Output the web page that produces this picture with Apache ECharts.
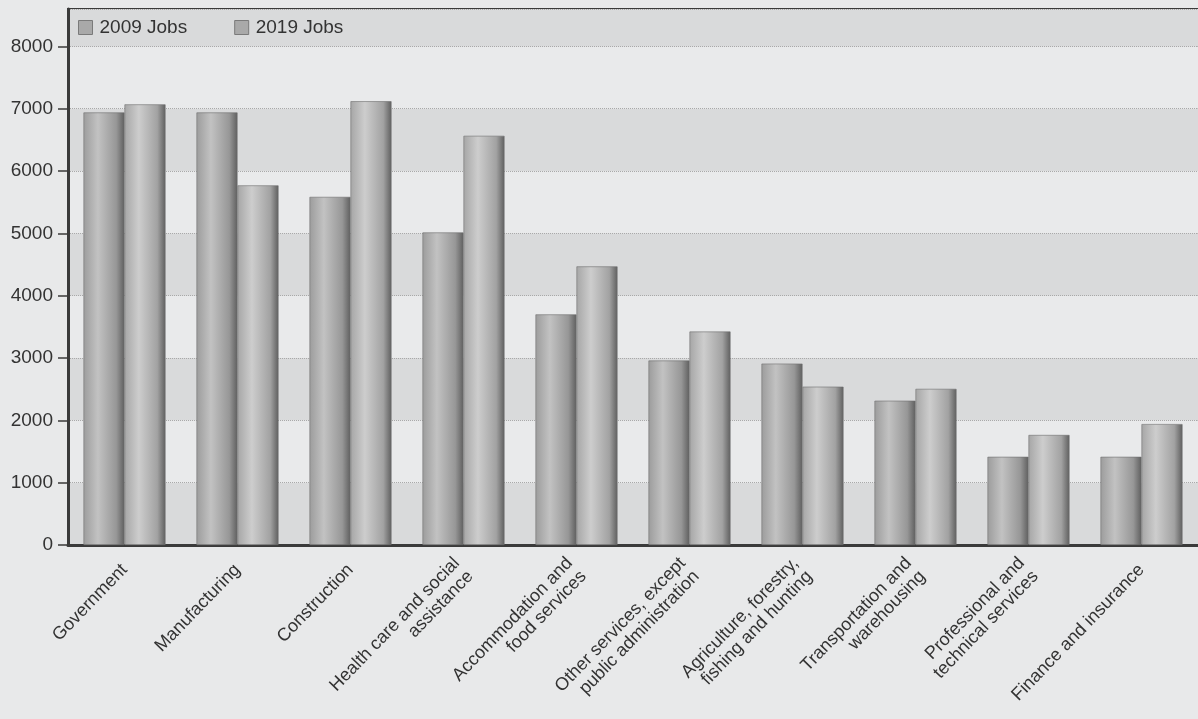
<!DOCTYPE html>
<html>
<head>
<meta charset="utf-8">
<script src="https://cdn.jsdelivr.net/npm/echarts@6/dist/echarts.min.js"></script>
<style>
  html, body { margin: 0; padding: 0; background: #e8e9ea; }
  #chart { width: 1198px; height: 719px; }
</style>
</head>
<body>
<div id="chart"></div>
<script>
// Industry categories (two-line labels where the name wraps)
const categories = [
  'Government',
  'Manufacturing',
  'Construction',
  'Health care and social\nassistance',
  'Accommodation and\nfood services',
  'Other services, except\npublic administration',
  'Agriculture, forestry,\nfishing and hunting',
  'Transportation and\nwarehousing',
  'Professional and\ntechnical services',
  'Finance and insurance'
];

// Jobs by industry
const jobs2009 = [6940, 6940, 5585, 5015, 3700, 2960, 2910, 2315, 1415, 1415];
const jobs2019 = [7070, 5770, 7120, 6565, 4470, 3425, 2540, 2505, 1765, 1940];

const seriesNames = ['2009 Jobs', '2019 Jobs'];
const yTicks = [0, 1000, 2000, 3000, 4000, 5000, 6000, 7000, 8000];

// Horizontal shading that gives each bar a rounded, cylinder-like look
function cylinder(light) {
  return new echarts.graphic.LinearGradient(0, 0, 1, 0, [
    { offset: 0, color: light ? '#a6a6a6' : '#9c9c9c' },
    { offset: 0.35, color: light ? '#cdcdcd' : '#c2c2c2' },
    { offset: 0.8, color: light ? '#a2a2a2' : '#979797' },
    { offset: 1, color: '#5f5f5f' }
  ]);
}

const chart = echarts.init(document.getElementById('chart'));
chart.setOption({
  backgroundColor: '#e8e9ea',
  animation: false,
  textStyle: { fontFamily: 'Liberation Sans, Arial, sans-serif' },
  grid: {
    left: 68, top: 9, right: -7, bottom: 174,
    show: true, borderColor: '#3a3a3a', borderWidth: 2,
    containLabel: false
  },
  legend: {
    left: 78, top: 18, padding: 0,
    itemWidth: 14, itemHeight: 14, itemGap: 47,
    icon: 'rect',
    textStyle: { fontSize: 19, color: '#333', padding: [0, 0, 0, 2] },
    data: seriesNames.map(n => ({
      name: n,
      itemStyle: { color: '#a9a9a9', borderColor: '#7a7a7a', borderWidth: 1 }
    }))
  },
  xAxis: {
    type: 'category',
    data: categories,
    axisLine: { lineStyle: { color: '#3a3a3a', width: 3 } },
    axisTick: { alignWithLabel: true, length: 8, lineStyle: { color: '#3a3a3a', width: 1.5 } },
    axisLabel: {
      rotate: 46, interval: 0, margin: 22,
      fontSize: 18, color: '#333', lineHeight: 19
    }
  },
  yAxis: {
    type: 'value',
    min: 0, max: 8600, interval: 1000,
    axisLine: { show: true, lineStyle: { color: '#3a3a3a', width: 3 } },
    axisTick: { show: true, length: 10, lineStyle: { color: '#3a3a3a', width: 1.5 } },
    axisLabel: {
      showMaxLabel: false, fontSize: 19, color: '#333', margin: 15,
      formatter: v => (yTicks.indexOf(v) >= 0 ? String(v) : '')
    },
    splitLine: { show: true, lineStyle: { color: '#a9a9a9', type: 'dotted', width: 1 } },
    splitArea: { show: true, areaStyle: { color: ['#d9dadb', '#e9eaeb'] } }
  },
  series: [
    {
      name: seriesNames[0], type: 'bar', data: jobs2009,
      barWidth: 41, barGap: '0%',
      itemStyle: { color: cylinder(false), borderColor: '#6e6e6e', borderWidth: 0.6 }
    },
    {
      name: seriesNames[1], type: 'bar', data: jobs2019,
      barWidth: 41,
      itemStyle: { color: cylinder(true), borderColor: '#6e6e6e', borderWidth: 0.6 }
    }
  ]
});
</script>
</body>
</html>
